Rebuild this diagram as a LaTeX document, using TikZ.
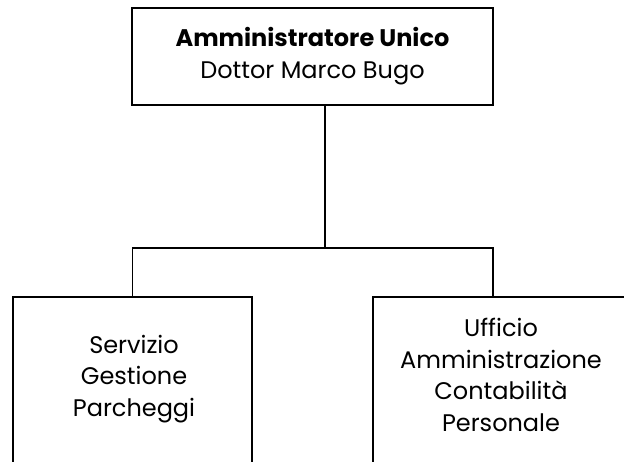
\documentclass[tikz,border=0pt]{standalone}
\usepackage{fontspec}
\setmainfont{Poppins}
\usetikzlibrary{positioning}
\tikzset{ unit_box/.style = {rectangle, draw, line width=1.8pt, inner sep=0pt} }
\tikzset{ unit_text/.style = {align=center, inner sep=0pt, font=\fontsize{24}{31.5}\selectfont} }
\tikzset{ conn/.style = {line width=1.8pt} }

\begin{document}
\begin{tikzpicture}[x=1pt, y=-1pt]
            \useasboundingbox (0, 0) rectangle (624, 462);
            \clip (0, 0) rectangle (624, 462);
            \node [unit_box, minimum width=361pt, minimum height=97pt] (amm) at (312.5, 56.5) {};
            \node [unit_box, minimum width=239pt, minimum height=240pt] (serv) at (132.5, 417) {};
            \node [unit_box, minimum width=260pt, minimum height=240pt] (uff) at (503, 417) {};
            \node [unit_text] (amm_t) at (312.5, 56) {\textbf{Amministratore Unico}\\Dottor Marco Bugo};
            \node [unit_text] (serv_t) at (134, 379) {Servizio\\Gestione\\Parcheggi};
            \node [unit_text] (uff_t) at (501, 375) {Ufficio\\Amministrazione\\Contabilità\\Personale};
            \coordinate (hub) at (325, 248);
            \coordinate (uff_in) at (493, 297);
            \draw [conn] (amm.south -| hub) -- (hub);
            \draw [conn] (hub) -| (serv.north);
            \draw [conn] (hub) -| (uff_in);
        \end{tikzpicture}
\end{document}
